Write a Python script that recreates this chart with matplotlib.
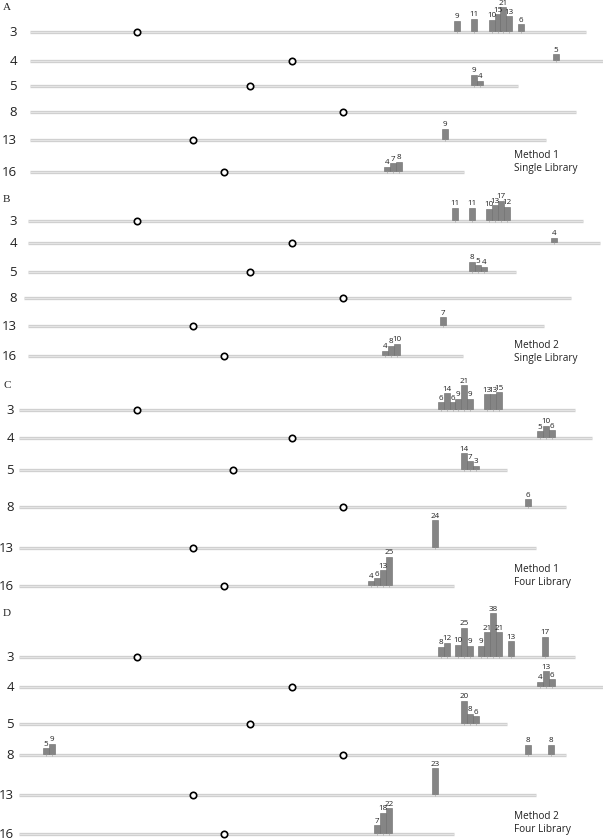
import matplotlib
matplotlib.use('Agg')
import matplotlib.pyplot as plt

rows = ['3', '4', '5', '8', '13', '16']

# position of the open circle on each row (same scale as the bars)
circle_A = [137, 292, 250, 343, 193, 224]
circle_B = [137, 292, 250, 343, 193, 224]
circle_C = [137, 292, 233, 343, 193, 224]
circle_D = [137, 292, 250, 343, 193, 224]

# where each row's line stops
end_A = [586, 603, 518, 576, 546, 464]
end_B = [583, 600, 516, 571, 544, 463]
end_C = [575, 592, 507, 566, 536, 454]
end_D = [575, 603, 507, 566, 536, 454]

# bar positions and counts, one list per row (3, 4, 5, 8, 13, 16)
pos_A = [[457, 474, 492, 498, 503, 509, 521], [556], [474, 480], [], [445], [387, 393, 399]]
cnt_A = [[9, 11, 10, 15, 21, 13, 6], [5], [9, 4], [], [9], [4, 7, 8]]

pos_B = [[455, 472, 489, 495, 501, 507], [554], [472, 478, 484], [], [443], [385, 391, 397]]
cnt_B = [[11, 11, 10, 13, 17, 12], [4], [8, 5, 4], [], [7], [4, 8, 10]]

pos_C = [[441, 447, 453, 458, 464, 470, 487, 493, 499], [540, 546, 552], [464, 470, 476],
         [528], [435], [371, 377, 383, 389]]
cnt_C = [[6, 14, 6, 9, 21, 9, 13, 13, 15], [5, 10, 6], [14, 7, 3], [6], [24], [4, 6, 13, 25]]

pos_D = [[441, 447, 458, 464, 470, 481, 487, 493, 499, 511, 545], [540, 546, 552],
         [464, 470, 476], [46, 52, 528, 551], [435], [377, 383, 389]]
cnt_D = [[8, 12, 10, 25, 9, 9, 21, 38, 21, 13, 17], [4, 13, 6], [20, 8, 6], [5, 9, 8, 8],
         [23], [7, 18, 22]]

panels = [
    ('A', 'Method 1\nSingle Library', circle_A, end_A, pos_A, cnt_A),
    ('B', 'Method 2\nSingle Library', circle_B, end_B, pos_B, cnt_B),
    ('C', 'Method 1\nFour Library', circle_C, end_C, pos_C, cnt_C),
    ('D', 'Method 2\nFour Library', circle_D, end_D, pos_D, cnt_D),
]

# layout (pixel rows of the baselines, line starts, label spots)
baselines = [[32, 61, 86, 112, 140, 172],
             [221, 243, 272, 298, 326, 356],
             [410, 438, 470, 507, 548, 586],
             [657, 687, 724, 755, 795, 834]]
line_start = [[30] * 6, [28, 28, 28, 24, 28, 28], [19] * 6, [19] * 6]
label_x = [17, 17, 14, 14]
letter_y = [7, 200, 385, 614]
method_y = [162, 352, 576, 823]

px_per_count = 1.12
bar_w = 5.8
sans = 'Open Sans'

fig = plt.figure(figsize=(6.03, 8.39), dpi=100)
ax = fig.add_axes([0, 0, 1, 1])
ax.set_xlim(0, 603)
ax.set_ylim(839, 0)
ax.axis('off')

for p, (letter, method, circ, ends, poss, cnts) in enumerate(panels):
    ax.text(3, letter_y[p], letter, family='Liberation Serif', fontsize=8,
            ha='left', va='center', color='#222222')
    ax.text(514, method_y[p], method, family=sans, fontsize=7.2, ha='left',
            va='center', linespacing=1.25, color='#222222')
    for r, name in enumerate(rows):
        y = baselines[p][r]
        x0 = line_start[p][r]
        ax.plot([x0, ends[r]], [y, y], color='#d0d0d0', lw=2.4,
                solid_capstyle='butt', zorder=1)
        ax.plot([x0, ends[r]], [y - 0.3, y - 0.3], color='#e8e8e8', lw=0.6,
                solid_capstyle='butt', zorder=1)
        ax.text(label_x[p], y + 0.5, name, family=sans, fontsize=9.5,
                ha='right', va='center', color='#222222')
        if poss[r]:
            heights = [-c * px_per_count for c in cnts[r]]
            ax.bar(poss[r], heights, bottom=y - 1, width=bar_w, color='#858585',
                   edgecolor='#6a6a6a', linewidth=0.4, zorder=2)
            ax.vlines(poss[r], y - 1, y + 1, color='#9a9a9a', lw=0.4, zorder=3)
            for x, c in zip(poss[r], cnts[r]):
                ax.text(x, y - 1 - c * px_per_count - 0.6, str(c), family=sans,
                        fontsize=5.8, ha='center', va='bottom', color='#222222')
        ax.plot(circ[r], y, 'o', ms=4.6, mfc='white', mec='black', mew=1.2, zorder=4)

fig.savefig('out.png', dpi=100)
